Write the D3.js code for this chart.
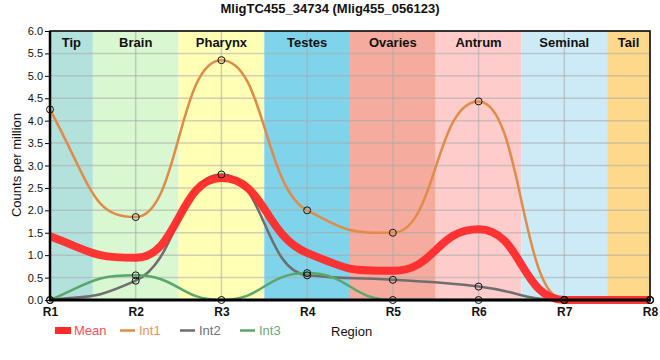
<!DOCTYPE html>
<html><head><meta charset="utf-8">
<script src="https://cdn.jsdelivr.net/npm/d3@7"></script>
<style>body{margin:0;background:#fff;font-family:"Liberation Sans",Arial,sans-serif;}</style>
</head><body><svg id="c" width="660" height="360"></svg>
<script>
const title = "MligTC455_34734 (Mlig455_056123)";
const regions = ["R1","R2","R3","R4","R5","R6","R7","R8"];
const bandNames = ["Tip","Brain","Pharynx","Testes","Ovaries","Antrum","Seminal","Tail"];
const bandStart = [1,1.5,2.5,3.5,4.5,5.5,6.5,7.5];
const bandEnd   = [1.5,2.5,3.5,4.5,5.5,6.5,7.5,8];
const bandColors = ["#b3e2dd","#d9f7d1","#ffffb5","#7fd4eb","#f5ab9d","#ffcccc","#cdebf6","#fed98b"];
const int1 = [4.25,1.85,5.35,2.0,1.5,4.43,0,0];
const int2 = [0,0.43,2.8,0.55,0.45,0.3,0,0];
const int3 = [0,0.55,0,0.6,0,0,0,0];
const meanVals = [1.42,0.94,2.72,1.05,0.65,1.58,0,0];
const yTicks = [0,0.5,1,1.5,2,2.5,3,3.5,4,4.5,5,5.5,6];
const seriesNames = ["Mean","Int1","Int2","Int3"];
const seriesColors = ["#ff2a2a","#e08c48","#6e6e6e","#5aa76a"];
const textColors = ["#ff4d5a","#e8935a","#707080","#6aaa78"];

const svg = d3.select("#c");
const L=50,R=650,T=31,B=300;
const x = d3.scaleLinear().domain([1,8]).range([L,R]);
const y = d3.scaleLinear().domain([0,6]).range([B,T]);

// custom smooth curve: monotone tangents, bezier handles at half-interval
function SmoothCurve(context){ this._context = context; }
SmoothCurve.prototype = {
  areaStart(){ this._line = 0; }, areaEnd(){ this._line = NaN; },
  lineStart(){ this._pts = []; },
  point(px,py){ this._pts.push([+px,+py]); },
  lineEnd(){
    const p = this._pts, n = p.length, c = this._context;
    if(!n) return;
    const sign = v => v<0?-1:1;
    const t = new Array(n).fill(0);
    for(let i=1;i<n-1;i++){
      const h0=p[i][0]-p[i-1][0], h1=p[i+1][0]-p[i][0];
      const s0=(p[i][1]-p[i-1][1])/h0, s1=(p[i+1][1]-p[i][1])/h1;
      const pp=(s0*h1+s1*h0)/(h0+h1);
      t[i]=(sign(s0)+sign(s1))*Math.min(Math.abs(s0),Math.abs(s1),0.5*Math.abs(pp))||0;
    }
    if(n>1){
      const h=p[1][0]-p[0][0]; t[0]=(3*(p[1][1]-p[0][1])/h - t[1])/2;
      const hn=p[n-1][0]-p[n-2][0]; t[n-1]=(3*(p[n-1][1]-p[n-2][1])/hn - t[n-2])/2;
      if(n===2){ t[0]=t[1]=(p[1][1]-p[0][1])/h; }
    }
    c.moveTo(p[0][0],p[0][1]);
    for(let i=0;i<n-1;i++){
      const h=p[i+1][0]-p[i][0], k=h/2;
      c.bezierCurveTo(p[i][0]+k,p[i][1]+t[i]*k,p[i+1][0]-k,p[i+1][1]-t[i+1]*k,p[i+1][0],p[i+1][1]);
    }
  }
};
const curveSmooth = ctx => new SmoothCurve(ctx);

svg.append("text").attr("x",330).attr("y",13).attr("text-anchor","middle")
  .attr("font-weight","bold").attr("font-size",13).attr("fill","#111").text(title);

bandNames.forEach((n,i)=>{
  svg.append("rect").attr("x",x(bandStart[i])).attr("y",T).attr("width",x(bandEnd[i])-x(bandStart[i]))
    .attr("height",B-T).attr("fill",bandColors[i]);
});
const g = svg.append("g");
yTicks.forEach(t=>{
  g.append("line").attr("x1",L).attr("x2",R).attr("y1",y(t)).attr("y2",y(t))
   .attr("stroke","rgba(170,170,170,0.55)").attr("stroke-width",1.5);
});
regions.forEach((r,i)=>{
  g.append("line").attr("x1",x(i+1)).attr("x2",x(i+1)).attr("y1",T).attr("y2",B)
   .attr("stroke","rgba(170,170,170,0.55)").attr("stroke-width",1.5);
});
bandNames.forEach((n,i)=>{
  svg.append("text").attr("x",(x(bandStart[i])+x(bandEnd[i]))/2).attr("y",47)
    .attr("text-anchor","middle").attr("font-weight","bold").attr("font-size",13).attr("fill","#111").text(n);
});

svg.append("clipPath").attr("id","clip").append("rect").attr("x",L).attr("y",T).attr("width",R-L).attr("height",B-T+4);
const plot = svg.append("g").attr("clip-path","url(#clip)");
const line = d3.line().x((d,i)=>x(i+1)).y(d=>y(d)).curve(curveSmooth);
const all = [meanVals,int1,int2,int3];
const widths = [8,2.5,2.5,2.5];
[1,2,3,0].forEach(k=>{
  plot.append("path").attr("d",line(all[k])).attr("fill","none")
    .attr("stroke",seriesColors[k]).attr("stroke-width",widths[k])
    .attr("stroke-opacity",k===0?0.95:1);
});

svg.append("rect").attr("x",L).attr("y",T).attr("width",R-L).attr("height",B-T)
  .attr("fill","none").attr("stroke","#000").attr("stroke-width",1.5);
svg.append("line").attr("x1",L).attr("x2",L).attr("y1",T).attr("y2",B).attr("stroke","#000").attr("stroke-width",2.5);
svg.append("line").attr("x1",L-1).attr("x2",R+1).attr("y1",B).attr("y2",B).attr("stroke","#000").attr("stroke-width",3);

[1,2,3].forEach(k=>{
  svg.append("g").selectAll("circle").data(all[k]).join("circle")
    .attr("cx",(d,i)=>x(i+1)).attr("cy",d=>y(d)).attr("r",3.5)
    .attr("fill","none").attr("stroke","#111").attr("stroke-width",1);
});

const ya = svg.append("g").attr("transform",`translate(${L-1},0)`)
  .call(d3.axisLeft(y).tickValues(yTicks).tickFormat(d3.format(".1f")).tickSize(4));
ya.select(".domain").remove();
ya.selectAll("text").attr("font-size",11).attr("fill","#111").attr("font-family","Liberation Sans, Arial, sans-serif").attr("dx","1");
ya.selectAll("line").attr("stroke","#000");
const xa = svg.append("g").attr("transform",`translate(0,${B})`)
  .call(d3.axisBottom(x).tickValues(d3.range(1,9)).tickFormat((d,i)=>regions[i]).tickSize(0));
xa.select(".domain").remove();
xa.selectAll("text").attr("font-size",12).attr("font-weight","bold").attr("fill","#111")
  .attr("font-family","Liberation Sans, Arial, sans-serif").attr("dy","1.05em");

svg.append("text").attr("transform","translate(21,165) rotate(-90)").attr("text-anchor","middle")
  .attr("font-size",13).attr("fill","#111").text("Counts per million");

const lx = [55,120,180,240];
seriesNames.forEach((n,i)=>{
  if(i===0) svg.append("rect").attr("x",lx[i]).attr("y",327).attr("width",16).attr("height",7).attr("fill",seriesColors[0]);
  else svg.append("line").attr("x1",lx[i]).attr("x2",lx[i]+15).attr("y1",330.5).attr("y2",330.5)
      .attr("stroke",seriesColors[i]).attr("stroke-width",2.5);
  svg.append("text").attr("x",lx[i]+19).attr("y",335).attr("font-size",13)
    .attr("fill",textColors[i]).text(n);
});
svg.append("text").attr("x",331).attr("y",336).attr("font-size",13).attr("fill","#111").text("Region");
</script></body></html>
